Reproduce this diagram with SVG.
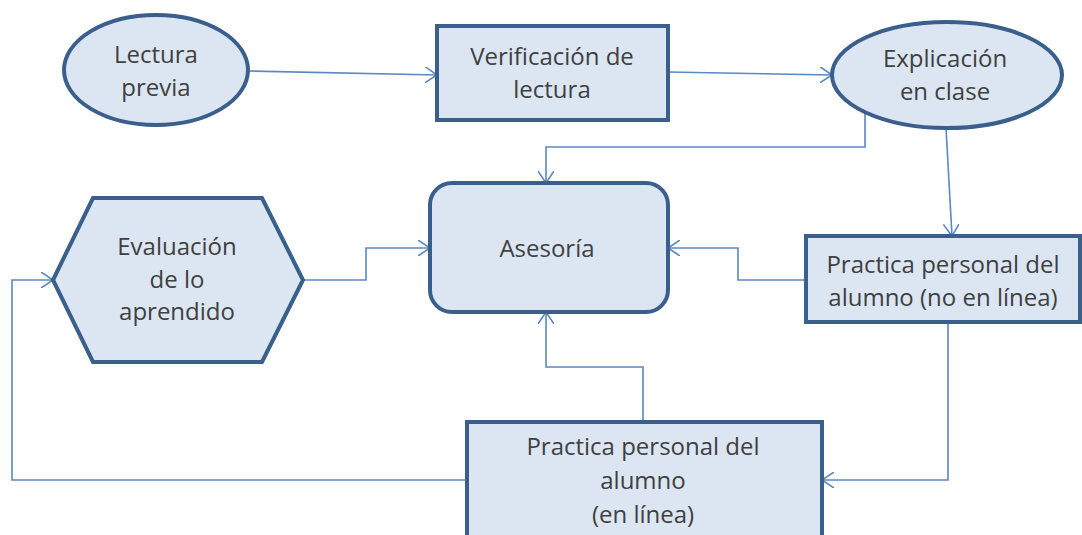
<svg xmlns="http://www.w3.org/2000/svg" width="1082" height="535" viewBox="0 0 1082 535">
<style>
.n{fill:#dce6f2;stroke:#3a5f8d;stroke-width:4}
.t{font-family:"Open Sans","Liberation Sans",sans-serif;font-size:24px;fill:#404040;text-anchor:middle}
.c{fill:none;stroke:#5b88c0;stroke-width:1.6}
</style>
<defs>
<marker id="a" viewBox="0 0 12 16" refX="12" refY="8" markerWidth="12" markerHeight="16" markerUnits="userSpaceOnUse" orient="auto">
<path d="M0,0 L12,8 L0,16" fill="none" stroke="#5b88c0" stroke-width="1.6"/>
</marker>
</defs>
<rect width="1082" height="535" fill="#ffffff"/>
<g id="connectors">
<path class="c" d="M248,71 L437,75" marker-end="url(#a)"/>
<path class="c" d="M668,72 L832,75" marker-end="url(#a)"/>
<path class="c" d="M865,114 L865,147 L546,147 L546,183" marker-end="url(#a)"/>
<path class="c" d="M946,128 L952,236" marker-end="url(#a)"/>
<path class="c" d="M303,280 L366,280 L366,248 L430,248" marker-end="url(#a)"/>
<path class="c" d="M806,280 L738,280 L738,248 L668,248" marker-end="url(#a)"/>
<path class="c" d="M948,322 L948,480 L822,480" marker-end="url(#a)"/>
<path class="c" d="M643,422 L643,367 L546,367 L546,312" marker-end="url(#a)"/>
<path class="c" d="M467,480 L12,480 L12,280 L53,280" marker-end="url(#a)"/>
</g>
<g id="lectura-previa">
<ellipse class="n" cx="156" cy="70" rx="92" ry="55"/>
<text class="t" x="156" y="63">Lectura</text>
<text class="t" x="156" y="96">previa</text>
</g>
<g id="verificacion">
<rect class="n" x="437" y="26" width="231" height="94"/>
<text class="t" x="552" y="65">Verificación de</text>
<text class="t" x="552" y="98">lectura</text>
</g>
<g id="explicacion">
<ellipse class="n" cx="947" cy="75" rx="115" ry="53"/>
<text class="t" x="945" y="67">Explicación</text>
<text class="t" x="945" y="100">en clase</text>
</g>
<g id="asesoria">
<rect class="n" x="430" y="183" width="238" height="129" rx="22"/>
<text class="t" x="547" y="257">Asesoría</text>
</g>
<g id="evaluacion">
<polygon class="n" points="53,280 93,198 262,198 303,280 262,362 93,362"/>
<text class="t" x="177" y="255">Evaluación</text>
<text class="t" x="177" y="288">de lo</text>
<text class="t" x="177" y="320">aprendido</text>
</g>
<g id="practica-no-en-linea">
<rect class="n" x="806" y="236" width="274" height="86"/>
<text class="t" x="943" y="273">Practica personal del</text>
<text class="t" x="943" y="306">alumno (no en línea)</text>
</g>
<g id="practica-en-linea">
<rect class="n" x="467" y="422" width="355" height="125"/>
<text class="t" x="643" y="455">Practica personal del</text>
<text class="t" x="643" y="489">alumno</text>
<text class="t" x="643" y="523">(en línea)</text>
</g>
</svg>
